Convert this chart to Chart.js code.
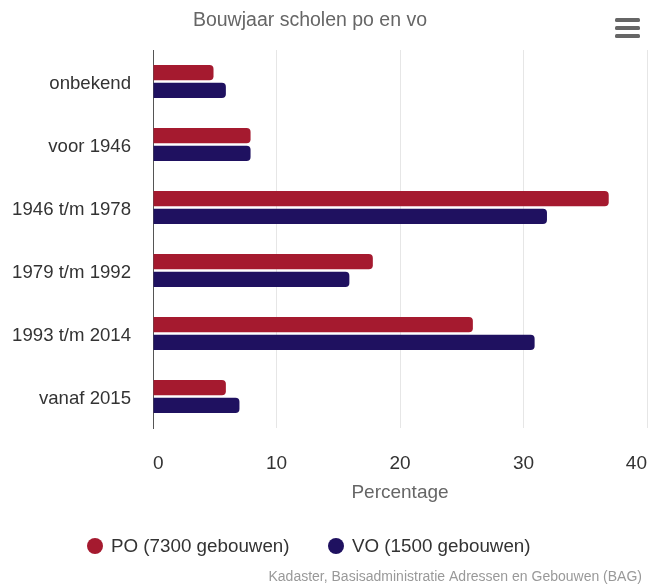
<!DOCTYPE html>
<html>
<head>
<meta charset="utf-8">
<script src="https://cdn.jsdelivr.net/npm/chart.js@4"></script>
<style>
  html, body { margin: 0; padding: 0; background: #fff; }
  #wrap { width: 648px; height: 584px; }
</style>
</head>
<body>
<div id="wrap"><canvas id="bouwjaarChart" width="648" height="584"></canvas></div>
<script>
const categories = ['onbekend', 'voor 1946', '1946 t/m 1978', '1979 t/m 1992', '1993 t/m 2014', 'vanaf 2015'];
const poValues   = [4.9, 7.9, 36.9, 17.8, 25.9, 5.9];
const voValues   = [5.9, 7.9, 31.9, 15.9, 30.9, 7.0];
const seriesLabels = ['PO (7300 gebouwen)', 'VO (1500 gebouwen)'];
const xTicks = [0, 10, 20, 30, 40];

const FONT = '"Liberation Sans", Arial, sans-serif';
const PO_COLOR = '#a51a2f';
const VO_COLOR = '#1f1160';

// title, menu icon, legend and credits drawn around the chart area
const decorPlugin = {
  id: 'decor',
  afterDraw(chart) {
    const ctx = chart.ctx;
    ctx.save();
    // title
    ctx.fillStyle = '#666';
    ctx.font = '19.5px ' + FONT;
    ctx.textAlign = 'center';
    ctx.textBaseline = 'middle';
    ctx.fillText('Bouwjaar scholen po en vo', 310, 21);

    // hamburger menu
    ctx.fillStyle = '#666';
    [20, 28, 36].forEach(y => {
      ctx.beginPath();
      ctx.roundRect(615, y - 2, 25, 4, 1.5);
      ctx.fill();
    });

    // legend
    const items = [
      { x: 95, color: PO_COLOR, text: seriesLabels[0] },
      { x: 336, color: VO_COLOR, text: seriesLabels[1] }
    ];
    ctx.font = '18.8px ' + FONT;
    ctx.textAlign = 'left';
    items.forEach(it => {
      ctx.fillStyle = it.color;
      ctx.beginPath();
      ctx.arc(it.x, 546, 8, 0, Math.PI * 2);
      ctx.fill();
      ctx.fillStyle = '#333';
      ctx.fillText(it.text, it.x + 16, 547);
    });

    // credits
    ctx.fillStyle = '#999';
    ctx.font = '14px ' + FONT;
    ctx.textAlign = 'right';
    ctx.fillText('Kadaster, Basisadministratie Adressen en Gebouwen (BAG)', 642, 577);
    ctx.restore();
  }
};

new Chart(document.getElementById('bouwjaarChart'), {
  type: 'bar',
  data: {
    labels: categories,
    datasets: [
      {
        label: seriesLabels[0],
        data: poValues,
        backgroundColor: PO_COLOR,
        borderRadius: 4,
        categoryPercentage: 0.56,
        barPercentage: 0.86
      },
      {
        label: seriesLabels[1],
        data: voValues,
        backgroundColor: VO_COLOR,
        borderRadius: 4,
        categoryPercentage: 0.56,
        barPercentage: 0.86
      }
    ]
  },
  options: {
    indexAxis: 'y',
    responsive: false,
    animation: false,
    layout: { padding: { top: 50, right: 1, bottom: 80, left: 0 } },
    plugins: {
      legend: { display: false },
      title: { display: false },
      tooltip: { enabled: false }
    },
    scales: {
      x: {
        min: 0,
        max: 40,
        afterBuildTicks(scale) { scale.ticks = xTicks.map(v => ({ value: v })); },
        afterFit(scale) { scale.height = 76; scale.paddingLeft = 0; scale.paddingRight = 0; },
        grid: { color: '#e6e6e6', drawTicks: false },
        border: { display: false },
        ticks: {
          align: 'inner',
          padding: 24,
          color: '#333',
          font: { family: FONT, size: 19 }
        },
        title: {
          display: true,
          text: 'Percentage',
          color: '#666',
          padding: 0,
          font: { family: FONT, size: 19 }
        }
      },
      y: {
        afterFit(scale) { scale.width = 153; },
        grid: { display: false, drawTicks: false },
        border: { display: true, color: '#555', width: 1 },
        ticks: {
          padding: 22,
          labelOffset: 2,
          color: '#333',
          font: { family: FONT, size: 18.6 }
        }
      }
    }
  },
  plugins: [decorPlugin]
});
</script>
</body>
</html>
